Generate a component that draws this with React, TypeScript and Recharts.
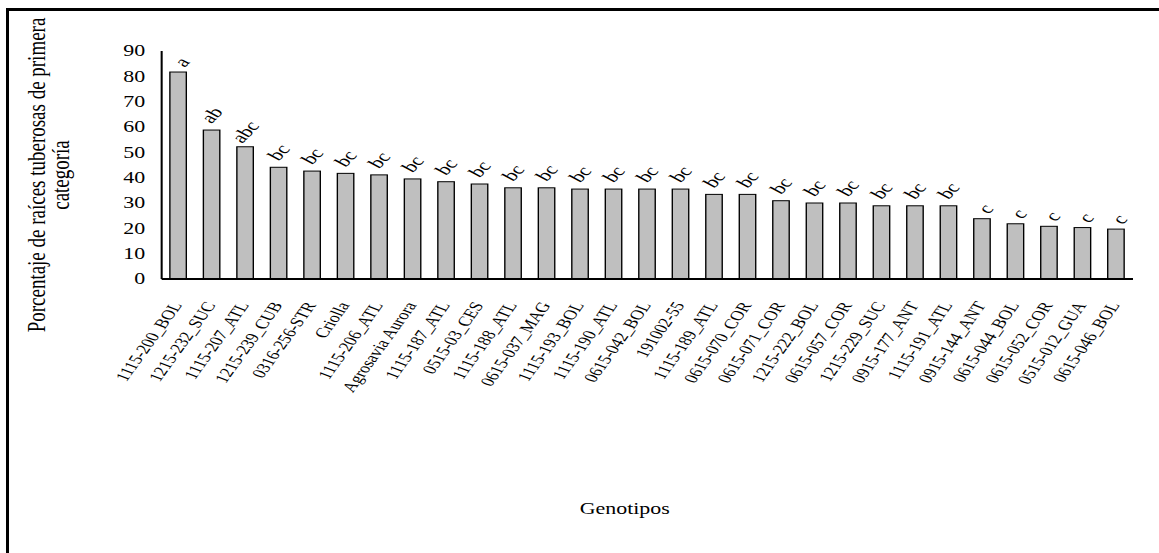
import React from "react";
import { BarChart, Bar, XAxis, YAxis } from "recharts";

const genotypes = [
  "1115-200_BOL", "1215-232_SUC", "1115-207_ATL", "1215-239_CUB", "0316-256-STR",
  "Criolla", "1115-206_ATL", "Agrosavia Aurora", "1115-187_ATL", "0515-03_CES",
  "1115-188_ATL", "0615-037_MAG", "1115-193_BOL", "1115-190_ATL", "0615-042_BOL",
  "191002-55", "1115-189_ATL", "0615-070_COR", "0615-071_COR", "1215-222_BOL",
  "0615-057_COR", "1215-229_SUC", "0915-177_ANT", "1115-191_ATL", "0915-144_ANT",
  "0615-044_BOL", "0615-052_COR", "0515-012_GUA", "0615-046_BOL",
];

const percentages = [
  81.7, 58.8, 52.2, 44.1, 42.6, 41.7, 41.1, 39.5, 38.4, 37.5,
  36.0, 36.0, 35.5, 35.5, 35.5, 35.5, 33.4, 33.4, 30.9, 30.0,
  30.0, 28.9, 28.9, 28.9, 23.8, 21.8, 20.8, 20.3, 19.7,
];

const letters = [
  "a", "ab", "abc", "bc", "bc", "bc", "bc", "bc", "bc", "bc",
  "bc", "bc", "bc", "bc", "bc", "bc", "bc", "bc", "bc", "bc",
  "bc", "bc", "bc", "bc", "c", "c", "c", "c", "c",
];

const yTicks = [0, 10, 20, 30, 40, 50, 60, 70, 80, 90];

const data = genotypes.map((name, i) => ({
  name,
  value: percentages[i],
  letter: letters[i],
}));

const S = 1.37;
const W = 846;
const H = 553;
const FONT = "'Liberation Serif', 'Times New Roman', serif";

const XTick = (props: any) => {
  const { x, y, payload } = props;
  return (
    <text
      x={0}
      y={0}
      textAnchor="end"
      transform={`translate(${x + 3},${y + 26}) rotate(-62)`}
      fontSize={14}
      fontFamily={FONT}
      fill="#000"
    >
      {payload.value}
    </text>
  );
};

const YTick = (props: any) => {
  const { x, y, payload } = props;
  return (
    <text
      x={x}
      y={y}
      textAnchor="end"
      dominantBaseline="central"
      fontSize={16}
      fontFamily={FONT}
      fill="#000"
    >
      {payload.value}
    </text>
  );
};

const BarWithLetter = (props: any) => {
  const { x, y, width, height, payload } = props;
  const txt = String(payload?.letter ?? "");
  const n = txt.length;
  const d = n === 1 ? 10 : 15;
  const dx = n === 1 ? 2.5 : 0;
  const cx = Number(x) + Number(width) / 2 + dx;
  const cy = Number(y) - d;
  return (
    <g>
      <rect
        x={x}
        y={y}
        width={width}
        height={height}
        fill="#bfbfbf"
        stroke="#000"
        strokeWidth={1}
      />
      <text
        x={0}
        y={0}
        textAnchor="middle"
        dominantBaseline="central"
        transform={`translate(${cx},${cy}) rotate(-54)`}
        fontSize={16}
        fontFamily={FONT}
        fill="#000"
      >
        {txt}
      </text>
    </g>
  );
};

export default function App() {
  return (
    <div
      style={{
        position: "fixed",
        left: 0,
        top: 0,
        width: 1159,
        height: 553,
        overflow: "hidden",
        background: "#fff",
      }}
    >
      <div
        style={{
          position: "absolute",
          left: 6,
          top: 8,
          width: 1153,
          height: 545,
          borderLeft: "3px solid #000",
          borderTop: "3px solid #000",
          boxSizing: "border-box",
        }}
      />
      <div
        style={{
          position: "absolute",
          left: 0,
          top: 0,
          width: W,
          height: H,
          transform: `scaleX(${S})`,
          transformOrigin: "0 0",
        }}
      >
        <BarChart
          width={W}
          height={H}
          data={data}
          margin={{ top: 51, right: 19, bottom: 0, left: 78 }}
          barSize={12}
        >
          <XAxis
            dataKey="name"
            interval={0}
            tickLine={false}
            tickSize={0}
            tickMargin={0}
            height={274}
            axisLine={{ stroke: "#000", strokeWidth: 2 }}
            tick={<XTick />}
          />
          <YAxis
            width={40}
            domain={[0, 90]}
            ticks={yTicks}
            interval={0}
            tickLine={false}
            tickSize={0}
            tickMargin={12}
            axisLine={{ stroke: "#000", strokeWidth: 1.5 }}
            tick={<YTick />}
          />
          <Bar
            dataKey="value"
            fill="#bfbfbf"
            stroke="#000"
            strokeWidth={1}
            isAnimationActive={false}
            shape={<BarWithLetter />}
          />
        </BarChart>
        <svg
          width={W}
          height={H}
          style={{ position: "absolute", left: 0, top: 0, pointerEvents: "none" }}
        >
          <text
            x={0}
            y={0}
            textAnchor="middle"
            dominantBaseline="central"
            transform="translate(26.6,175) rotate(-90)"
            fontSize={19}
            fontFamily={FONT}
            fill="#000"
          >
            Porcentaje de raíces tuberosas de primera
          </text>
          <text
            x={0}
            y={0}
            textAnchor="middle"
            dominantBaseline="central"
            transform="translate(43.8,175) rotate(-90)"
            fontSize={19}
            fontFamily={FONT}
            fill="#000"
          >
            categoría
          </text>
          <text
            x={456}
            y={509}
            textAnchor="middle"
            dominantBaseline="central"
            fontSize={16}
            fontFamily={FONT}
            fill="#000"
          >
            Genotipos
          </text>
        </svg>
      </div>
    </div>
  );
}
